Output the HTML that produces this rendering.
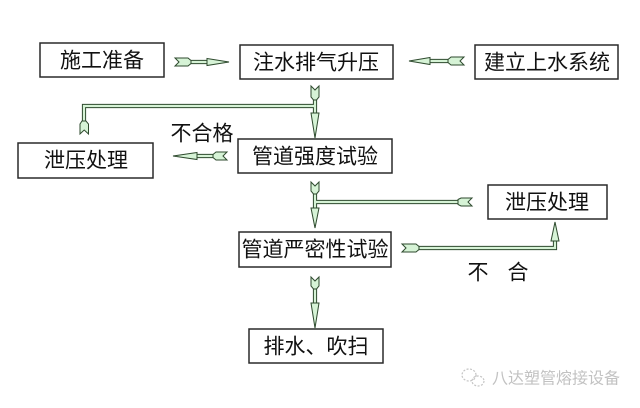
<!DOCTYPE html>
<html>
<head>
<meta charset="utf-8">
<style>
html,body{margin:0;padding:0;background:#fff;}
body{width:640px;height:408px;overflow:hidden;}
svg{display:block;}
.t{font-family:"Liberation Sans","Noto Sans CJK SC",sans-serif;font-size:21px;fill:#111;}
.box{fill:#fff;stroke:#2a2a2a;stroke-width:1.5;}
.ar{fill:#d6f3d6;stroke:#2e4a2e;stroke-width:1;stroke-linejoin:miter;}
.sd{fill:none;stroke:#2e4a2e;stroke-width:4.2;stroke-linejoin:miter;stroke-linecap:butt;}
.sl{fill:none;stroke:#d6f3d6;stroke-width:2.2;stroke-linejoin:miter;stroke-linecap:butt;}
</style>
</head>
<body>
<svg width="640" height="408" viewBox="0 0 640 408" xmlns="http://www.w3.org/2000/svg">
<!-- boxes -->
<rect class="box" x="40" y="43" width="124" height="34"/>
<rect class="box" x="240" y="45" width="153" height="34"/>
<rect class="box" x="475" y="45" width="143" height="34"/>
<rect class="box" x="18" y="143" width="135" height="35"/>
<rect class="box" x="238" y="139" width="154" height="34"/>
<rect class="box" x="488" y="185" width="119" height="34"/>
<rect class="box" x="239" y="232" width="152" height="35"/>
<rect class="box" x="249" y="329" width="134" height="34"/>

<!-- box texts -->
<text class="t" x="102" y="61" text-anchor="middle" dominant-baseline="central">施工准备</text>
<text class="t" x="316" y="63" text-anchor="middle" dominant-baseline="central">注水排气升压</text>
<text class="t" x="547" y="63" text-anchor="middle" dominant-baseline="central">建立上水系统</text>
<text class="t" x="86" y="161" text-anchor="middle" dominant-baseline="central">泄压处理</text>
<text class="t" x="315" y="157" text-anchor="middle" dominant-baseline="central">管道强度试验</text>
<text class="t" x="547" y="203" text-anchor="middle" dominant-baseline="central">泄压处理</text>
<text class="t" x="315" y="250" text-anchor="middle" dominant-baseline="central">管道严密性试验</text>
<text class="t" x="316" y="347" text-anchor="middle" dominant-baseline="central">排水、吹扫</text>

<!-- labels -->
<text class="t" x="202" y="134" text-anchor="middle" dominant-baseline="central">不合格</text>
<text class="t" x="478" y="273" text-anchor="middle" dominant-baseline="central">不</text>
<text class="t" x="518" y="273" text-anchor="middle" dominant-baseline="central">合</text>

<!-- shafts (dark then light) -->
<g>
<polyline class="sd" points="189,62 209,62"/>
<polyline class="sd" points="428,61 450,61"/>
<polyline class="sd" points="315,98 315,115"/>
<polyline class="sd" points="315,106 84,106 84,123"/>
<polyline class="sd" points="195,156 215,156"/>
<polyline class="sd" points="315,192 315,210"/>
<polyline class="sd" points="315,202 460,202"/>
<polyline class="sd" points="417,248 555,248 555,239"/>
<polyline class="sd" points="315,287 315,305"/>
</g>
<g>
<polyline class="sl" points="189,62 209,62"/>
<polyline class="sl" points="428,61 450,61"/>
<polyline class="sl" points="315,98 315,115"/>
<polyline class="sl" points="315,106 84,106 84,123"/>
<polyline class="sl" points="195,156 215,156"/>
<polyline class="sl" points="315,192 315,210"/>
<polyline class="sl" points="315,202 460,202"/>
<polyline class="sl" points="417,248 555,248 555,239"/>
<polyline class="sl" points="315,287 315,305"/>
</g>

<!-- A1: right arrow 施工准备 -> 注水排气升压 -->
<polygon class="ar" points="175,58 188,58 191,60.5 191,63.5 188,66 175,66 179,62"/>
<polygon class="ar" points="207,58.5 229,62 207,65.5"/>

<!-- A2: left arrow 建立上水系统 -> 注水排气升压 -->
<polygon class="ar" points="430,57.5 409,61 430,64.5"/>
<polygon class="ar" points="448,59.5 451,57 464,57 460,61 464,65 451,65 448,62.5"/>

<!-- A3: vertical down from 注水排气升压 -->
<polygon class="ar" points="311,86 315,90 319,86 319,97 316.5,100 313.5,100 311,97"/>
<polygon class="ar" points="311,113 319,113 315,138"/>
<!-- left branch tail -->
<polygon class="ar" points="82,121 86,121 88.5,124 88.5,134 84.2,130 80,134 80,124"/>

<!-- A4: left arrow 不合格 -->
<polygon class="ar" points="197,152.5 173,156 197,159.5"/>
<polygon class="ar" points="213,154.5 216,152 227,152 223,156 227,160 216,160 213,157.5"/>

<!-- A5: vertical down from 管道强度试验 -->
<polygon class="ar" points="311,182 315,186 319,182 319,191 316.5,194 313.5,194 311,191"/>
<polygon class="ar" points="311,208 319,208 315,228"/>
<!-- right branch tail -->
<polygon class="ar" points="458,199.5 461,198 472,198 468,202 472,206 461,206 458,204.5"/>

<!-- A6: 管道严密性试验 -> 泄压处理 right -->
<polygon class="ar" points="402,244 416,244 419,246.5 419,249.5 416,252 402,252 406,248"/>
<polygon class="ar" points="551,241 559,241 555,222"/>

<!-- A7: vertical down to 排水、吹扫 -->
<polygon class="ar" points="311,277 315,281 319,277 319,286 316.5,289 313.5,289 311,286"/>
<polygon class="ar" points="311,303 319,303 315,328"/>

<!-- watermark -->
<g fill="none" stroke="#c4c4c4" stroke-width="1.2" stroke-dasharray="2,1.5">
<ellipse cx="469" cy="375" rx="7" ry="6"/>
<ellipse cx="478" cy="381" rx="6" ry="5"/>
</g>
<text x="492" y="379" font-family="'Liberation Sans','Noto Sans CJK SC',sans-serif" font-size="16" fill="#c2c2c2" dominant-baseline="central">八达塑管熔接设备</text>
</svg>
</body>
</html>
